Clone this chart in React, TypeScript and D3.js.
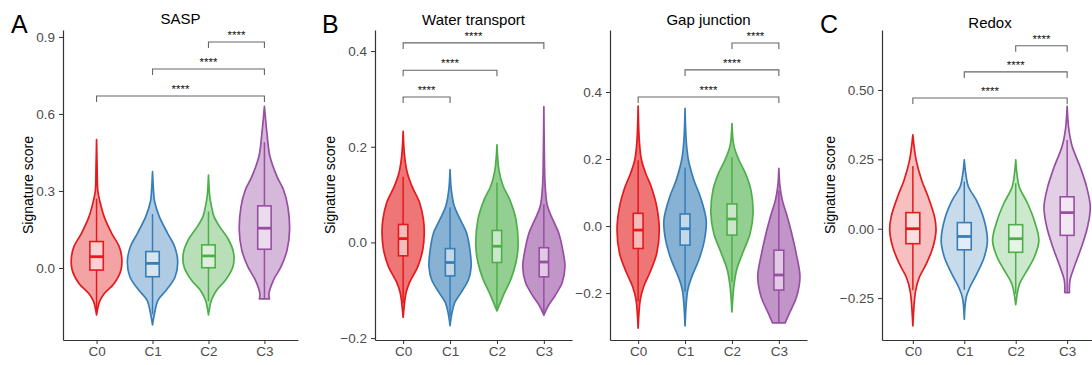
import React, { useRef, useEffect } from 'react';
import * as d3 from 'd3';

type Profile = [number, number][];
type Box = [number, number, number, number, number];
type Bracket = [number, number, number];

const categories = ['C0', 'C1', 'C2', 'C3'];
const groupColors = ['#E41A1C', '#377EB8', '#4DAF4A', '#984EA3'];

// violin profiles: [score, relative density]
const saspViolins: Profile[] = [
  [[-0.183, 0], [-0.13, 0.12], [-0.1, 0.3], [-0.06, 0.7], [-0.008, 0.97], [0.04, 1.0], [0.083, 0.9], [0.135, 0.6], [0.2, 0.3], [0.26, 0.13], [0.3, 0.05], [0.4, 0.02], [0.5, 0]],
  [[-0.222, 0], [-0.177, 0.08], [-0.125, 0.22], [-0.086, 0.55], [-0.034, 0.9], [0.025, 1.0], [0.083, 0.88], [0.135, 0.6], [0.2, 0.27], [0.26, 0.08], [0.3, 0.04], [0.375, 0]],
  [[-0.183, 0], [-0.125, 0.12], [-0.086, 0.33], [-0.047, 0.68], [0.005, 0.97], [0.057, 1.0], [0.11, 0.8], [0.16, 0.45], [0.2, 0.22], [0.24, 0.12], [0.28, 0.05], [0.362, 0]],
  [[-0.12, 0.2], [-0.1, 0.18], [-0.047, 0.36], [0.005, 0.66], [0.07, 0.9], [0.148, 1.0], [0.239, 0.93], [0.304, 0.76], [0.356, 0.5], [0.434, 0.22], [0.525, 0.1], [0.63, 0]],
];
const waterViolins: Profile[] = [
  [[-0.157, 0], [-0.105, 0.14], [-0.084, 0.3], [-0.05, 0.7], [-0.015, 0.93], [0.02, 1.0], [0.048, 0.96], [0.083, 0.78], [0.117, 0.42], [0.145, 0.2], [0.18, 0.07], [0.232, 0]],
  [[-0.174, 0], [-0.15, 0.08], [-0.126, 0.22], [-0.105, 0.52], [-0.077, 0.88], [-0.05, 1.0], [-0.022, 0.96], [0.02, 0.78], [0.048, 0.48], [0.076, 0.2], [0.11, 0.06], [0.152, 0]],
  [[-0.143, 0], [-0.126, 0.16], [-0.105, 0.36], [-0.077, 0.66], [-0.042, 0.9], [-0.008, 1.0], [0.048, 0.9], [0.09, 0.6], [0.117, 0.3], [0.15, 0.1], [0.204, 0]],
  [[-0.152, 0], [-0.133, 0.2], [-0.112, 0.52], [-0.084, 0.87], [-0.05, 1.0], [-0.022, 0.92], [0.02, 0.7], [0.048, 0.42], [0.076, 0.17], [0.12, 0.06], [0.2, 0.02], [0.284, 0]],
];
const gapViolins: Profile[] = [
  [[-0.305, 0], [-0.22, 0.1], [-0.181, 0.26], [-0.141, 0.54], [-0.082, 0.88], [-0.012, 1.0], [0.058, 0.88], [0.117, 0.62], [0.157, 0.36], [0.197, 0.16], [0.25, 0.06], [0.358, 0]],
  [[-0.298, 0], [-0.19, 0.13], [-0.151, 0.32], [-0.1, 0.66], [-0.042, 0.92], [0.018, 1.0], [0.088, 0.72], [0.137, 0.42], [0.197, 0.16], [0.25, 0.06], [0.351, 0]],
  [[-0.256, 0], [-0.18, 0.09], [-0.131, 0.22], [-0.082, 0.5], [-0.022, 0.86], [0.038, 1.0], [0.107, 0.9], [0.157, 0.64], [0.197, 0.33], [0.24, 0.09], [0.306, 0]],
  [[-0.289, 0.3], [-0.26, 0.5], [-0.211, 0.84], [-0.151, 1.0], [-0.082, 0.82], [-0.02, 0.6], [0.028, 0.4], [0.078, 0.16], [0.12, 0.05], [0.172, 0]],
];
const redoxViolins: Profile[] = [
  [[-0.35, 0], [-0.223, 0.12], [-0.175, 0.28], [-0.127, 0.58], [-0.066, 0.87], [-0.006, 1.0], [0.042, 0.94], [0.115, 0.66], [0.175, 0.38], [0.248, 0.14], [0.338, 0]],
  [[-0.326, 0], [-0.248, 0.08], [-0.211, 0.24], [-0.163, 0.54], [-0.103, 0.86], [-0.042, 1.0], [0.042, 0.82], [0.103, 0.52], [0.151, 0.18], [0.2, 0.06], [0.248, 0]],
  [[-0.274, 0], [-0.2, 0.16], [-0.163, 0.4], [-0.103, 0.8], [-0.042, 1.0], [0.03, 0.8], [0.09, 0.52], [0.151, 0.15], [0.2, 0.05], [0.248, 0]],
  [[-0.23, 0.1], [-0.187, 0.12], [-0.139, 0.3], [-0.066, 0.62], [0.006, 0.88], [0.078, 1.0], [0.151, 0.84], [0.223, 0.56], [0.296, 0.22], [0.36, 0.07], [0.441, 0]],
];

// boxes: [lower whisker, q1, median, q3, upper whisker]
const saspBoxes: Box[] = [
  [-0.17, -0.008, 0.044, 0.103, 0.27],
  [-0.18, -0.034, 0.018, 0.064, 0.21],
  [-0.13, 0.001, 0.047, 0.09, 0.22],
  [-0.118, 0.073, 0.155, 0.242, 0.49],
];
const waterBoxes: Box[] = [
  [-0.127, -0.028, 0.008, 0.0375, 0.137],
  [-0.155, -0.07, -0.042, -0.013, 0.073],
  [-0.14, -0.042, -0.008, 0.025, 0.125],
  [-0.152, -0.072, -0.041, -0.011, 0.08],
];
const gapBoxes: Box[] = [
  [-0.225, -0.067, -0.012, 0.038, 0.196],
  [-0.196, -0.057, -0.008, 0.036, 0.175],
  [-0.166, -0.027, 0.021, 0.066, 0.205],
  [-0.289, -0.191, -0.146, -0.072, 0.106],
];
const redoxBoxes: Box[] = [
  [-0.222, -0.054, 0, 0.058, 0.226],
  [-0.22, -0.076, -0.028, 0.022, 0.17],
  [-0.235, -0.085, -0.036, 0.0145, 0.164],
  [-0.23, -0.024, 0.058, 0.115, 0.32],
];

// significance brackets: [from group, to group, score]
const saspBrackets: Bracket[] = [[2, 3, 0.88], [1, 3, 0.775], [0, 3, 0.67]];
const waterBrackets: Bracket[] = [[0, 3, 0.417], [0, 2, 0.36], [0, 1, 0.304]];
const gapBrackets: Bracket[] = [[2, 3, 0.546], [1, 3, 0.466], [0, 3, 0.385]];
const redoxBrackets: Bracket[] = [[2, 3, 0.659], [1, 3, 0.565], [0, 3, 0.471]];

const saspTicks = [0, 0.3, 0.6, 0.9];
const saspTickLabels = ['0.0', '0.3', '0.6', '0.9'];
const waterTicks = [-0.2, 0, 0.2, 0.4];
const waterTickLabels = ['\u22120.2', '0.0', '0.2', '0.4'];
const gapTicks = [-0.2, 0, 0.2, 0.4];
const gapTickLabels = ['\u22120.2', '0.0', '0.2', '0.4'];
const redoxTicks = [-0.25, 0, 0.25, 0.5];
const redoxTickLabels = ['\u22120.25', '0.00', '0.25', '0.50'];

const FONT = 'Liberation Sans, Arial, Helvetica, sans-serif';
const Y_BOTTOM = 340;
const Y_TOP = 30;

const panels = [
  { title: 'SASP', letter: 'A', letterX: 11, violins: saspViolins, boxes: saspBoxes, brackets: saspBrackets,
    ticks: saspTicks, tickLabels: saspTickLabels, domain: [-0.2805, 0.927], left: 63, right: 298,
    alpha: 0.4, boxWidth: 0.24, yLabelX: 28, titleY: 24 },
  { title: 'Water transport', letter: 'B', letterX: 322, violins: waterViolins, boxes: waterBoxes, brackets: waterBrackets,
    ticks: waterTicks, tickLabels: waterTickLabels, domain: [-0.204, 0.444], left: 375, right: 572,
    alpha: 0.6, boxWidth: 0.2, yLabelX: 330, titleY: 25 },
  { title: 'Gap junction', letter: '', letterX: 0, violins: gapViolins, boxes: gapBoxes, brackets: gapBrackets,
    ticks: gapTicks, tickLabels: gapTickLabels, domain: [-0.34, 0.585], left: 610, right: 807,
    alpha: 0.6, boxWidth: 0.21, yLabelX: 0, titleY: 25 },
  { title: 'Redox', letter: 'C', letterX: 820, violins: redoxViolins, boxes: redoxBoxes, brackets: redoxBrackets,
    ticks: redoxTicks, tickLabels: redoxTickLabels, domain: [-0.401, 0.716], left: 882, right: 1098,
    alpha: 0.28, boxWidth: 0.27, yLabelX: 830, titleY: 28 },
];

const App: React.FC = () => {
  const ref = useRef<SVGSVGElement | null>(null);

  useEffect(() => {
    const svg = d3.select(ref.current);
    svg.selectAll('*').remove();

    panels.forEach(p => {
      const g = svg.append('g');
      const x = d3.scalePoint<string>().domain(categories).range([p.left, p.right]).padding(0.6);
      const y = d3.scaleLinear().domain(p.domain).range([Y_BOTTOM, Y_TOP]);
      const step = x.step();
      const hw = step * 0.45;
      const bw = step * p.boxWidth;

      categories.forEach((c, i) => {
        const cx = x(c) as number;
        const color = groupColors[i];
        const area = d3
          .area<[number, number]>()
          .y(d => y(d[0]))
          .x0(d => cx - d[1] * hw)
          .x1(d => cx + d[1] * hw)
          .curve(d3.curveCatmullRom.alpha(0.5));

        g.append('path')
          .attr('d', area(p.violins[i]))
          .attr('fill', color)
          .attr('fill-opacity', p.alpha)
          .attr('stroke', color)
          .attr('stroke-width', 1.7)
          .attr('stroke-linejoin', 'round');

        const [lo, q1, med, q3, hi] = p.boxes[i];
        g.append('line')
          .attr('x1', cx).attr('x2', cx)
          .attr('y1', y(lo)).attr('y2', y(q1))
          .attr('stroke', color).attr('stroke-width', 1.5);
        g.append('line')
          .attr('x1', cx).attr('x2', cx)
          .attr('y1', y(q3)).attr('y2', y(hi))
          .attr('stroke', color).attr('stroke-width', 1.5);
        g.append('rect')
          .attr('x', cx - bw / 2)
          .attr('width', bw)
          .attr('y', y(q3))
          .attr('height', y(q1) - y(q3))
          .attr('fill', 'white')
          .attr('fill-opacity', 0.5)
          .attr('stroke', color)
          .attr('stroke-width', 1.6);
        g.append('line')
          .attr('x1', cx - bw / 2).attr('x2', cx + bw / 2)
          .attr('y1', y(med)).attr('y2', y(med))
          .attr('stroke', color).attr('stroke-width', 2.8);
      });

      // significance brackets
      p.brackets.forEach(([a, b, v]) => {
        const xa = x(categories[a]) as number;
        const xb = x(categories[b]) as number;
        const yy = y(v);
        g.append('path')
          .attr('d', `M${xa},${yy + 6}V${yy}H${xb}V${yy + 6}`)
          .attr('fill', 'none')
          .attr('stroke', '#666')
          .attr('stroke-width', 1.1);
        g.append('text')
          .attr('x', (xa + xb) / 2)
          .attr('y', yy - 3)
          .attr('text-anchor', 'middle')
          .style('font-family', FONT)
          .style('font-size', '11.5px')
          .style('fill', '#111')
          .text('****');
      });

      const yAxis = g.append('g')
        .attr('transform', `translate(${p.left},0)`)
        .call(
          d3.axisLeft(y)
            .tickValues(p.ticks)
            .tickFormat((_d, i) => p.tickLabels[i])
            .tickSize(4)
            .tickSizeOuter(0)
            .tickPadding(4)
        );
      const xAxis = g.append('g')
        .attr('transform', `translate(0,${Y_BOTTOM})`)
        .call(d3.axisBottom(x).tickSize(4).tickSizeOuter(0).tickPadding(2));

      [yAxis, xAxis].forEach(ax => {
        ax.select('.domain').attr('stroke', '#333').attr('stroke-width', 1.2);
        ax.selectAll('.tick line').attr('stroke', '#333');
        ax.selectAll('.tick text')
          .style('font-family', FONT)
          .style('font-size', '13.5px')
          .attr('fill', '#4d4d4d');
      });

      g.append('text')
        .attr('x', (p.left + p.right) / 2)
        .attr('y', p.titleY)
        .attr('text-anchor', 'middle')
        .style('font-family', FONT)
        .style('font-size', '15px')
        .style('fill', '#000')
        .text(p.title);

      if (p.letter) {
        g.append('text')
          .attr('x', p.letterX)
          .attr('y', 33)
          .style('font-family', FONT)
          .style('font-size', '25px')
          .style('fill', '#000')
          .text(p.letter);
      }

      if (p.yLabelX) {
        g.append('text')
          .attr('transform', `translate(${p.yLabelX},${(Y_TOP + Y_BOTTOM) / 2}) rotate(-90)`)
          .attr('text-anchor', 'middle')
          .attr('dy', '0.35em')
          .style('font-family', FONT)
          .style('font-size', '14px')
          .style('fill', '#000')
          .text('Signature score');
      }
    });
  }, []);

  return (
    <svg
      ref={ref}
      width={1092}
      height={365}
      style={{ position: 'absolute', left: 0, top: 0, background: '#fff' }}
    ></svg>
  );
};

export default App;
